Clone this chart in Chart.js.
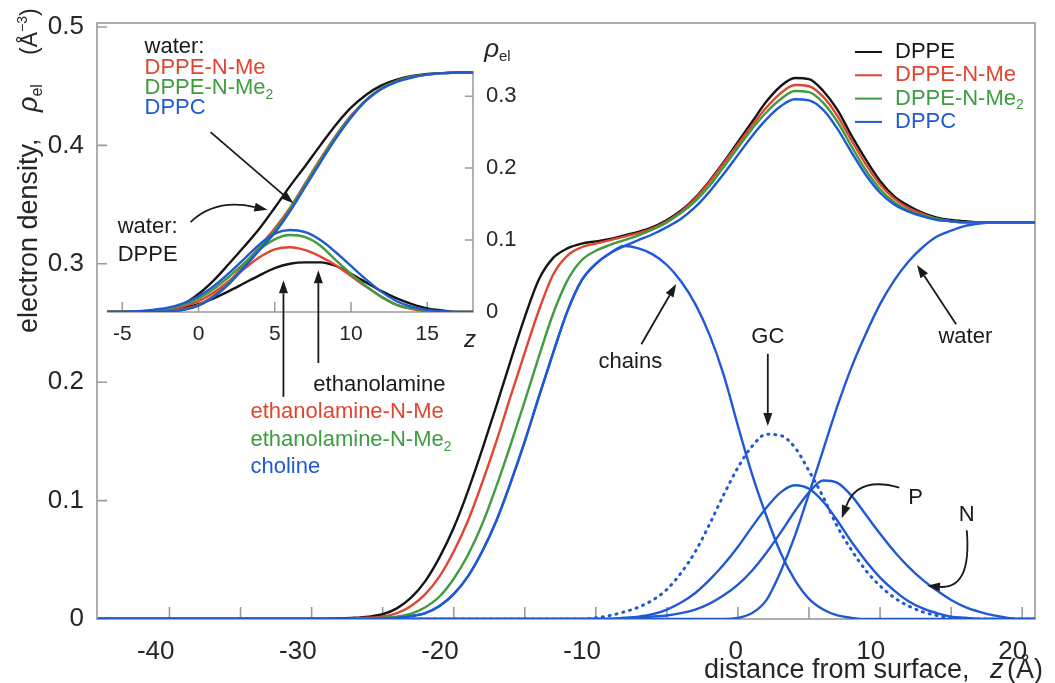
<!DOCTYPE html>
<html>
<head>
<meta charset="utf-8">
<title>electron density profiles</title>
<script src="https://cdn.jsdelivr.net/npm/chart.js@4.4.1/dist/chart.umd.min.js"></script>
<style>
  html, body { margin: 0; padding: 0; background: #fff; }
  #box { position: relative; width: 1055px; height: 683px; }
  #box canvas { position: absolute; left: 0; top: 0; }
</style>
</head>
<body>
<div id="box">
  <canvas id="main" width="1055" height="683"></canvas>
  <canvas id="inset" width="1055" height="683"></canvas>
</div>
<script>
const FONT = "'Liberation Sans', Arial, Helvetica, sans-serif";
const BLACK = '#151515', RED = '#e2452f', GREEN = '#3f9c3f', BLUE = '#1f5ad4';
const AXIS = '#9a9a9a', TEXT = '#262626', INK = '#1a1a1a';

// names
const lipids = ['DPPE', 'DPPE-N-Me', 'DPPE-N-Me2', 'DPPC'];
const headgroups = ['ethanolamine', 'ethanolamine-N-Me', 'ethanolamine-N-Me2', 'choline'];
const lipidColors = [BLACK, RED, GREEN, BLUE];

// tick labels
const xMainTicks = [-40, -30, -20, -10, 0, 10, 20];
const xMainMinor = [-35, -25, -15, -5, 5, 15];
const yMainTicks = [0, 0.1, 0.2, 0.3, 0.4, 0.5];
const xInsetTicks = [-5, 0, 5, 10, 15];
const yInsetTicks = [0, 0.1, 0.2, 0.3];

// main panel, z in Angstrom
const zMain = [-45, -40, -35, -30, -28, -27, -26, -25, -24, -23, -22, -21, -20, -19, -18, -17, -16, -15, -14, -13,
  -12, -11, -10, -9, -8, -7, -6, -5, -4, -3, -2, -1, 0, 1, 2, 3, 4, 5, 6, 7, 8, 9, 10, 11, 12, 13, 14, 15, 16, 17, 18, 19, 20, 21];

// total electron density of the four monolayers
const dppe = [0, 0, 0, 0, 0.0005, 0.001, 0.002, 0.004, 0.009, 0.018, 0.032, 0.052, 0.077, 0.108, 0.143, 0.180, 0.218, 0.255, 0.287, 0.305,
  0.313, 0.317, 0.319, 0.321, 0.324, 0.327, 0.331, 0.337, 0.345, 0.356, 0.370, 0.386, 0.403, 0.420, 0.437, 0.450, 0.457, 0.456, 0.446, 0.430,
  0.408, 0.388, 0.370, 0.357, 0.349, 0.343, 0.339, 0.337, 0.336, 0.335, 0.335, 0.335, 0.335, 0.335];
const dppeNMe = [0, 0, 0, 0, 0, 0.0005, 0.001, 0.002, 0.005, 0.011, 0.021, 0.036, 0.057, 0.083, 0.115, 0.150, 0.188, 0.225, 0.261, 0.291,
  0.307, 0.314, 0.317, 0.320, 0.323, 0.326, 0.330, 0.336, 0.344, 0.355, 0.369, 0.385, 0.401, 0.417, 0.432, 0.444, 0.451, 0.450, 0.441, 0.425,
  0.404, 0.384, 0.367, 0.355, 0.347, 0.342, 0.338, 0.336, 0.335, 0.335, 0.335, 0.335, 0.335, 0.335];
const dppeNMe2 = [0, 0, 0, 0, 0, 0, 0.0005, 0.001, 0.002, 0.0045, 0.010, 0.019, 0.034, 0.054, 0.080, 0.112, 0.147, 0.184, 0.222, 0.258,
  0.286, 0.303, 0.311, 0.316, 0.320, 0.324, 0.329, 0.335, 0.343, 0.353, 0.366, 0.382, 0.398, 0.414, 0.428, 0.439, 0.446, 0.445, 0.436, 0.420,
  0.399, 0.379, 0.363, 0.352, 0.345, 0.341, 0.338, 0.336, 0.335, 0.335, 0.335, 0.335, 0.335, 0.335];
const dppc = [0, 0, 0, 0, 0, 0, 0, 0.0005, 0.001, 0.0024, 0.005, 0.011, 0.021, 0.036, 0.057, 0.083, 0.115, 0.150, 0.188, 0.225,
  0.260, 0.286, 0.300, 0.309, 0.315, 0.320, 0.325, 0.331, 0.338, 0.348, 0.361, 0.376, 0.392, 0.408, 0.422, 0.433, 0.439, 0.438, 0.430, 0.414,
  0.394, 0.375, 0.360, 0.350, 0.344, 0.340, 0.337, 0.336, 0.335, 0.335, 0.335, 0.335, 0.335, 0.335];

// DPPC split into components
const chains = [0, 0, 0, 0, 0, 0, 0, 0.0005, 0.001, 0.0024, 0.005, 0.011, 0.021, 0.036, 0.057, 0.083, 0.115, 0.150, 0.188, 0.225,
  0.260, 0.286, 0.300, 0.309, 0.315, 0.313, 0.308, 0.299, 0.285, 0.266, 0.240, 0.206, 0.163, 0.122, 0.087, 0.056, 0.033, 0.017, 0.008, 0.003,
  0.001, 0, 0, 0, 0, 0, 0, 0, 0, 0, 0, 0, 0, 0];
const glycerolCarbonyl = [0, 0, 0, 0, 0, 0, 0, 0, 0, 0, 0, 0, 0, 0, 0, 0, 0, 0, 0, 0,
  0, 0, 0.001, 0.003, 0.006, 0.010, 0.016, 0.025, 0.039, 0.057, 0.080, 0.105, 0.128, 0.146, 0.156, 0.155, 0.145, 0.125, 0.103, 0.078,
  0.058, 0.041, 0.028, 0.018, 0.011, 0.006, 0.003, 0.001, 0, 0, 0, 0, 0, 0];
const phosphate = [0, 0, 0, 0, 0, 0, 0, 0, 0, 0, 0, 0, 0, 0, 0, 0, 0, 0, 0, 0,
  0, 0, 0, 0, 0.001, 0.002, 0.004, 0.008, 0.014, 0.022, 0.033, 0.046, 0.061, 0.078, 0.094, 0.107, 0.113, 0.110, 0.099, 0.083,
  0.065, 0.049, 0.035, 0.024, 0.015, 0.009, 0.005, 0.002, 0.001, 0, 0, 0, 0, 0];
const nitrogen = [0, 0, 0, 0, 0, 0, 0, 0, 0, 0, 0, 0, 0, 0, 0, 0, 0, 0, 0, 0,
  0, 0, 0, 0, 0, 0.001, 0.002, 0.003, 0.005, 0.008, 0.013, 0.020, 0.029, 0.041, 0.056, 0.073, 0.091, 0.107, 0.117, 0.115,
  0.104, 0.088, 0.072, 0.057, 0.044, 0.033, 0.024, 0.016, 0.010, 0.006, 0.003, 0.001, 0, 0];
const water = [0, 0, 0, 0, 0, 0, 0, 0, 0, 0, 0, 0, 0, 0, 0, 0, 0, 0, 0, 0,
  0, 0, 0, 0, 0, 0, 0, 0, 0, 0, 0, 0, 0.001, 0.005, 0.016, 0.040, 0.070, 0.106, 0.143, 0.180,
  0.213, 0.241, 0.266, 0.286, 0.302, 0.314, 0.323, 0.328, 0.332, 0.334, 0.335, 0.335, 0.335, 0.335];

// inset: water and headgroup profiles
const zInset = [-6, -5, -4, -3, -2, -1, 0, 1, 2, 3, 4, 5, 6, 7, 8, 9, 10, 11, 12, 13, 14, 15, 16, 17, 18];
const waterDppe = [0, 0, 0, 0.001, 0.004, 0.011, 0.025, 0.044, 0.067, 0.091, 0.116, 0.145, 0.175, 0.203, 0.232, 0.260, 0.284, 0.302, 0.315, 0.323, 0.328, 0.331, 0.332, 0.333, 0.333];
const waterNMe = [0, 0, 0, 0, 0.001, 0.004, 0.010, 0.023, 0.042, 0.066, 0.091, 0.116, 0.145, 0.179, 0.213, 0.245, 0.273, 0.295, 0.311, 0.321, 0.327, 0.330, 0.332, 0.333, 0.333];
const waterNMe2 = [0, 0, 0, 0, 0.001, 0.003, 0.009, 0.022, 0.040, 0.064, 0.089, 0.113, 0.143, 0.177, 0.211, 0.244, 0.272, 0.295, 0.311, 0.321, 0.327, 0.330, 0.332, 0.333, 0.333];
const waterDppc = [0, 0, 0, 0, 0.001, 0.003, 0.009, 0.021, 0.039, 0.062, 0.086, 0.110, 0.140, 0.174, 0.208, 0.241, 0.270, 0.294, 0.310, 0.320, 0.326, 0.330, 0.332, 0.333, 0.333];
const ethanolamine = [0, 0, 0, 0.001, 0.003, 0.006, 0.011, 0.019, 0.029, 0.040, 0.051, 0.061, 0.067, 0.069, 0.069, 0.064, 0.053, 0.041, 0.029, 0.019, 0.011, 0.005, 0.002, 0, 0];
const ethanolamineNMe = [0, 0, 0, 0.001, 0.003, 0.008, 0.015, 0.027, 0.043, 0.060, 0.076, 0.087, 0.090, 0.086, 0.077, 0.065, 0.050, 0.035, 0.021, 0.010, 0.004, 0.001, 0, 0, 0];
const ethanolamineNMe2 = [0, 0, 0.001, 0.002, 0.005, 0.010, 0.019, 0.032, 0.049, 0.068, 0.087, 0.101, 0.107, 0.104, 0.092, 0.072, 0.053, 0.036, 0.021, 0.010, 0.005, 0.002, 0, 0, 0];
const choline = [0, 0, 0.001, 0.003, 0.006, 0.012, 0.022, 0.036, 0.054, 0.074, 0.094, 0.109, 0.114, 0.111, 0.100, 0.083, 0.064, 0.045, 0.028, 0.015, 0.007, 0.003, 0.001, 0, 0];


function line(values, xs, color, extra) {
  return Object.assign({
    data: xs.map((x, i) => ({x: x, y: values[i]})),
    borderColor: color,
    borderWidth: 2.4,
    pointRadius: 0,
    fill: false,
    cubicInterpolationMode: 'monotone'
  }, extra || {});
}

// text made of pieces: [text, font, dy]
function rich(ctx, x, y, parts) {
  let cx = x;
  parts.forEach(p => {
    ctx.font = p[1];
    ctx.fillText(p[0], cx, y + (p[2] || 0));
    cx += ctx.measureText(p[0]).width;
  });
  return cx;
}

// names like "DPPE-N-Me2" get a subscript 2
function label(ctx, txt, x, y, size) {
  if (txt.endsWith('Me2')) {
    rich(ctx, x, y, [[txt.slice(0, -1), size + 'px ' + FONT], ['2', Math.round(size * 0.62) + 'px ' + FONT, size * 0.3]]);
  } else {
    ctx.font = size + 'px ' + FONT;
    ctx.fillText(txt, x, y);
  }
}

function arrow(ctx, pts) {
  const n = pts.length, tip = pts[n - 1], from = pts[n - 2];
  const ang = Math.atan2(tip[1] - from[1], tip[0] - from[0]);
  const L = 13, W = 4.5;
  const bx = tip[0] - L * Math.cos(ang), by = tip[1] - L * Math.sin(ang);
  ctx.beginPath();
  ctx.moveTo(pts[0][0], pts[0][1]);
  if (n === 3) ctx.quadraticCurveTo(pts[1][0], pts[1][1], bx, by);
  else ctx.lineTo(bx, by);
  ctx.stroke();
  ctx.beginPath();
  ctx.moveTo(tip[0], tip[1]);
  ctx.lineTo(bx + W * Math.sin(ang), by - W * Math.cos(ang));
  ctx.lineTo(bx - W * Math.sin(ang), by + W * Math.cos(ang));
  ctx.closePath();
  ctx.fill();
}

const mainDecor = {
  id: 'mainDecor',
  beforeDatasetsDraw(chart) {
    const ctx = chart.ctx, a = chart.chartArea, sx = chart.scales.x, sy = chart.scales.y;
    ctx.save();
    ctx.strokeStyle = AXIS;
    ctx.lineWidth = 1.6;
    ctx.strokeRect(a.left, a.top, a.right - a.left, a.bottom - a.top);
    ctx.beginPath();
    xMainTicks.concat(xMainMinor).forEach(v => {
      const p = sx.getPixelForValue(v);
      ctx.moveTo(p, a.bottom); ctx.lineTo(p, a.bottom - 12);
    });
    yMainTicks.forEach(v => {
      const p = sy.getPixelForValue(v);
      ctx.moveTo(a.left, p); ctx.lineTo(a.left + 10, p);
    });
    ctx.stroke();
    ctx.restore();
  },
  afterDraw(chart) {
    const ctx = chart.ctx, sx = chart.scales.x, sy = chart.scales.y;
    const at = (z, v) => [sx.getPixelForValue(z), sy.getPixelForValue(v)];
    ctx.save();
    ctx.fillStyle = INK;
    ctx.strokeStyle = INK;
    ctx.lineWidth = 1.8;

    // component labels with arrows
    ctx.textAlign = 'center';
    ctx.textBaseline = 'middle';
    ctx.font = '22px ' + FONT;
    [['chains', -7.57, 0.217], ['GC', 2.1, 0.238], ['water', 16.0, 0.238], ['P', 12.5, 0.102], ['N', 16.1, 0.088]]
      .forEach(t => { const p = at(t[1], t[2]); ctx.fillText(t[0], p[0], p[1]); });
    arrow(ctx, [at(-6.8, 0.232), at(-4.35, 0.283)]);
    arrow(ctx, [at(2.1, 0.224), at(2.1, 0.163)]);
    arrow(ctx, [at(15.35, 0.249), at(12.6, 0.299)]);
    arrow(ctx, [at(11.35, 0.111), at(8.4, 0.121), at(7.3, 0.085)]);
    arrow(ctx, [at(16.1, 0.075), at(16.45, 0.025), at(13.3, 0.028)]);

    // legend
    ctx.textAlign = 'left';
    lipids.forEach((name, i) => {
      const y = 52 + i * 23.3;
      ctx.strokeStyle = lipidColors[i];
      ctx.lineWidth = 2;
      ctx.beginPath(); ctx.moveTo(855, y); ctx.lineTo(882, y); ctx.stroke();
      ctx.fillStyle = lipidColors[i];
      label(ctx, name, 895, y, 22);
    });

    // axis titles
    ctx.fillStyle = TEXT;
    ctx.textBaseline = 'alphabetic';
    ctx.font = '27px ' + FONT;
    ctx.fillText('distance from surface,', 704, 678);
    ctx.font = 'italic 27px ' + FONT;
    ctx.fillText('z', 990, 678);
    ctx.font = '27px ' + FONT;
    ctx.fillText('(Å)', 1007, 678);

    ctx.translate(37, 333);
    ctx.rotate(-Math.PI / 2);
    ctx.font = '27px ' + FONT;
    ctx.fillText('electron density,', 0, 0);
    rich(ctx, 221, 0, [['ρ', 'italic 27px ' + FONT], ['el', '16px ' + FONT, 5]]);
    rich(ctx, 278, 0, [['(Å', '23px ' + FONT], ['−3', '14px ' + FONT, -10], [')', '23px ' + FONT]]);
    ctx.restore();
  }
};

const insetDecor = {
  id: 'insetDecor',
  beforeDatasetsDraw(chart) {
    const ctx = chart.ctx, a = chart.chartArea, sx = chart.scales.x, sy = chart.scales.y;
    ctx.save();
    ctx.strokeStyle = AXIS;
    ctx.lineWidth = 1.5;
    ctx.beginPath();
    ctx.moveTo(a.left, a.bottom); ctx.lineTo(a.right, a.bottom); ctx.lineTo(a.right, a.top);
    xInsetTicks.forEach(v => {
      const p = sx.getPixelForValue(v);
      ctx.moveTo(p, a.bottom); ctx.lineTo(p, a.bottom - 10);
    });
    yInsetTicks.forEach(v => {
      const p = sy.getPixelForValue(v);
      ctx.moveTo(a.right, p); ctx.lineTo(a.right - 8, p);
    });
    ctx.stroke();
    ctx.restore();
  },
  afterDraw(chart) {
    const ctx = chart.ctx, sx = chart.scales.x, sy = chart.scales.y;
    const at = (z, v) => [sx.getPixelForValue(z), sy.getPixelForValue(v)];
    ctx.save();
    ctx.textAlign = 'left';
    ctx.textBaseline = 'middle';

    // water labels
    let p = at(-3.54, 0.368);
    ctx.fillStyle = INK;
    ctx.font = '22px ' + FONT;
    ctx.fillText('water:', p[0], p[1]);
    [0.339, 0.311, 0.283].forEach((v, i) => {
      const q = at(-3.54, v);
      ctx.fillStyle = lipidColors[i + 1];
      label(ctx, lipids[i + 1], q[0], q[1], 22);
    });
    ctx.fillStyle = INK;
    ctx.font = '22px ' + FONT;
    p = at(-5.3, 0.118); ctx.fillText('water:', p[0], p[1]);
    p = at(-5.3, 0.079); ctx.fillText(lipids[0], p[0], p[1]);

    // headgroup labels under the inset
    p = at(7.53, -0.101);
    ctx.fillText(headgroups[0], p[0], p[1]);
    [-0.139, -0.178, -0.215].forEach((v, i) => {
      const q = at(3.41, v);
      ctx.fillStyle = lipidColors[i + 1];
      label(ctx, headgroups[i + 1], q[0], q[1], 22);
    });

    ctx.fillStyle = INK;
    ctx.strokeStyle = INK;
    ctx.lineWidth = 1.8;
    arrow(ctx, [at(0.79, 0.25), at(6.22, 0.151)]);
    arrow(ctx, [at(-0.52, 0.125), at(1.11, 0.158), at(4.52, 0.142)]);
    arrow(ctx, [at(5.57, -0.118), at(5.57, 0.044)]);
    arrow(ctx, [at(7.86, -0.071), at(7.86, 0.058)]);

    // axis names
    ctx.fillStyle = TEXT;
    ctx.textBaseline = 'alphabetic';
    p = at(18.73, 0.354);
    rich(ctx, p[0], p[1], [['ρ', 'italic 26px ' + FONT], ['el', '15px ' + FONT, 4]]);
    ctx.textAlign = 'center';
    ctx.textBaseline = 'middle';
    ctx.font = 'italic 24px ' + FONT;
    p = at(17.8, -0.039);
    ctx.fillText('z', p[0], p[1]);
    ctx.restore();
  }
};

new Chart(document.getElementById('main'), {
  type: 'line',
  data: {
    datasets: [
      line(dppc, zMain, BLUE, {label: lipids[3]}),
      line(dppeNMe2, zMain, GREEN, {label: lipids[2]}),
      line(dppeNMe, zMain, RED, {label: lipids[1]}),
      line(dppe, zMain, BLACK, {label: lipids[0]}),
      line(chains, zMain, BLUE, {label: 'chains'}),
      line(glycerolCarbonyl, zMain, BLUE, {label: 'GC', borderDash: [1, 6], borderCapStyle: 'round', borderWidth: 3}),
      line(phosphate, zMain, BLUE, {label: 'P'}),
      line(nitrogen, zMain, BLUE, {label: 'N'}),
      line(water, zMain, BLUE, {label: 'water'})
    ]
  },
  options: {
    responsive: false,
    animation: false,
    devicePixelRatio: 1,
    layout: {padding: {left: 0, top: 23, right: 20, bottom: 0}},
    plugins: {legend: {display: false}, tooltip: {enabled: false}},
    scales: {
      x: {
        type: 'linear', min: -45.1, max: 20.9,
        grid: {display: false}, border: {display: false},
        afterBuildTicks: s => { s.ticks = xMainTicks.map(v => ({value: v})); },
        afterFit: s => { s.height = 64; },
        ticks: {color: TEXT, font: {family: FONT, size: 26}, align: 'end', labelOffset: 5, padding: 9,
          maxRotation: 0, autoSkip: false, callback: v => String(v)}
      },
      y: {
        min: 0, max: 0.5034,
        grid: {display: false}, border: {display: false},
        afterBuildTicks: s => { s.ticks = yMainTicks.map(v => ({value: v})); },
        afterFit: s => { s.width = 97; },
        ticks: {color: TEXT, font: {family: FONT, size: 26}, padding: 5, callback: v => String(v)}
      }
    }
  },
  plugins: [mainDecor]
});

new Chart(document.getElementById('inset'), {
  type: 'line',
  data: {
    datasets: [
      line(waterDppc, zInset, BLUE),
      line(choline, zInset, BLUE),
      line(waterNMe2, zInset, GREEN),
      line(ethanolamineNMe2, zInset, GREEN),
      line(waterNMe, zInset, RED),
      line(ethanolamineNMe, zInset, RED),
      line(waterDppe, zInset, BLACK),
      line(ethanolamine, zInset, BLACK)
    ]
  },
  options: {
    responsive: false,
    animation: false,
    devicePixelRatio: 1,
    layout: {padding: {left: 107, top: 71, right: 522, bottom: 341}},
    plugins: {legend: {display: false}, tooltip: {enabled: false}},
    scales: {
      x: {
        type: 'linear', min: -6, max: 18,
        grid: {display: false}, border: {display: false},
        afterBuildTicks: s => { s.ticks = xInsetTicks.map(v => ({value: v})); },
        afterFit: s => { s.height = 30; },
        ticks: {color: TEXT, font: {family: FONT, size: 21}, padding: 2, maxRotation: 0, autoSkip: false,
          callback: v => String(v)}
      },
      y: {
        position: 'right', min: 0, max: 0.335,
        grid: {display: false}, border: {display: false},
        afterBuildTicks: s => { s.ticks = yInsetTicks.map(v => ({value: v})); },
        afterFit: s => { s.width = 60; },
        ticks: {color: TEXT, font: {family: FONT, size: 22}, padding: 5, callback: v => String(v)}
      }
    }
  },
  plugins: [insetDecor]
});
</script>
</body>
</html>
